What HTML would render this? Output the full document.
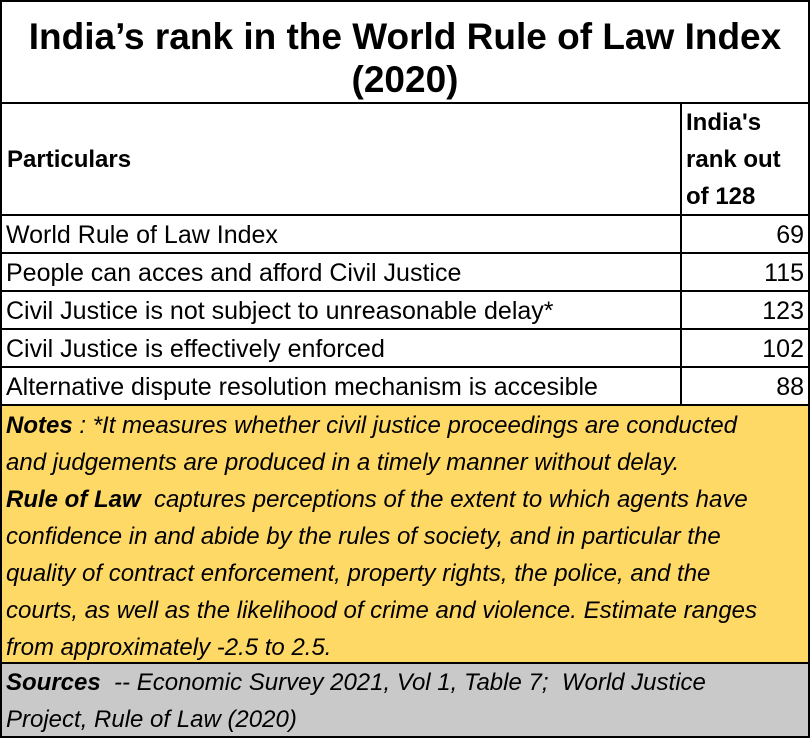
<!DOCTYPE html>
<html><head><meta charset="utf-8"><style>
body{margin:0;width:810px;height:738px;overflow:hidden;background:#fff;font-family:"Liberation Sans",sans-serif;color:#000}
.a{position:absolute;box-sizing:border-box}
.ln{position:absolute;background:#000}
.t{position:absolute;white-space:nowrap;line-height:1;font-size:25px}
.i{font-style:italic}
</style></head><body>
<div class="a" style="left:0;top:0;width:810px;height:738px;border:2px solid #000"></div>
<div class="a" style="left:2px;top:405px;width:806px;height:258px;background:#FFD966"></div>
<div class="a" style="left:2px;top:664px;width:806px;height:72px;background:#C9C9C9"></div>
<div class="ln" style="left:0;top:102px;width:810px;height:2px"></div>
<div class="ln" style="left:0;top:214px;width:810px;height:2px"></div>
<div class="ln" style="left:0;top:252px;width:810px;height:2px"></div>
<div class="ln" style="left:0;top:290px;width:810px;height:2px"></div>
<div class="ln" style="left:0;top:328px;width:810px;height:2px"></div>
<div class="ln" style="left:0;top:366px;width:810px;height:2px"></div>
<div class="ln" style="left:0;top:404px;width:810px;height:2px"></div>
<div class="ln" style="left:0;top:662px;width:810px;height:2px"></div>
<div class="ln" style="left:680px;top:103px;width:2px;height:302px"></div>

<div class="t" style="left:0;width:810px;text-align:center;top:15px;font-size:37px;font-weight:bold;line-height:43px;white-space:normal">India’s rank in the World Rule of Law Index<br>(2020)</div>
<div class="t" style="left:7px;top:148px;font-weight:bold;font-size:24px">Particulars</div>
<div class="t" style="left:686px;top:104px;font-weight:bold;line-height:37px;font-size:24px">India's<br>rank out<br>of 128</div>

<div class="t" style="left:6px;top:223px">World Rule of Law Index</div>
<div class="t" style="right:6px;top:223px">69</div>
<div class="t" style="left:6px;top:261px">People can acces and afford Civil Justice</div>
<div class="t" style="right:6px;top:261px">115</div>
<div class="t" style="left:6px;top:299px">Civil Justice is not subject to unreasonable delay*</div>
<div class="t" style="right:6px;top:299px">123</div>
<div class="t" style="left:6px;top:337px">Civil Justice is effectively enforced</div>
<div class="t" style="right:6px;top:337px">102</div>
<div class="t" style="left:6px;top:375px">Alternative dispute resolution mechanism is accesible</div>
<div class="t" style="right:6px;top:375px">88</div>

<div class="t i" style="left:6px;top:407px;line-height:37px;font-size:24px"><b>Notes</b> : *It measures whether civil justice proceedings are conducted<br>and judgements are produced in a timely manner without delay.<br><b>Rule of Law</b>&nbsp; captures perceptions of the extent to which agents have<br>confidence in and abide by the rules of society, and in particular the<br>quality of contract enforcement, property rights, the police, and the<br>courts, as well as the likelihood of crime and violence. Estimate ranges<br>from approximately -2.5 to 2.5.</div>
<div class="t i" style="left:6px;top:664px;line-height:37px;font-size:24px"><b>Sources</b>&nbsp; -- Economic Survey 2021, Vol 1, Table 7;&nbsp; World Justice<br>Project, Rule of Law (2020)</div>
</body></html>
